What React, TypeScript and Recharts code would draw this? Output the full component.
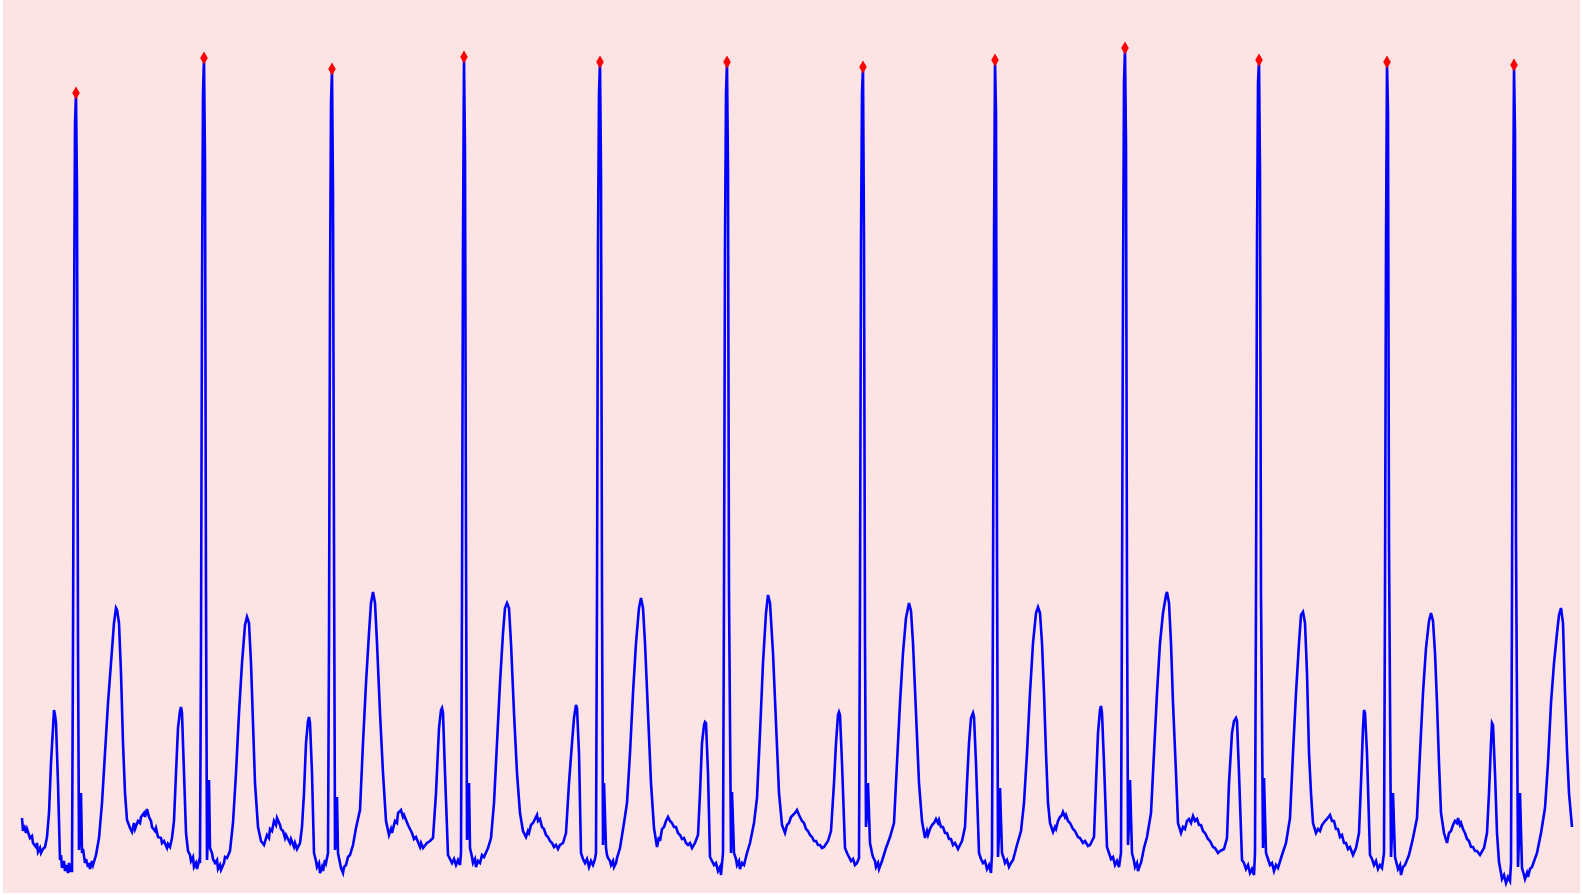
import { ComposedChart, Line, Scatter, XAxis, YAxis, ZAxis, CartesianGrid } from 'recharts';

// ECG trace: [time (samples), amplitude (units above floor)]
const leadIn: [number, number][] = [
  [22, 75], [23, 62], [24, 68], [26, 60], [27, 64], [30, 55], [32, 57], [33, 50], [36, 46], [37, 50], [38, 41], [40, 45], [41, 40], [43, 44], [45, 46], [47, 56],
];

const beat1: [number, number][] = [
  [49, 80], [51, 130], [53, 165], [54, 183], [55, 178], [56, 170], [58, 110], [60, 33], [61, 38], [62, 25], [64, 32], [65, 22], [66, 28], [68, 20], [69, 30], [70, 22], [72, 22],
  [73, 250], [74, 560], [75, 770], [76, 800], [77, 700], [78, 250], [79, 43], [80, 60], [81, 100], [82, 40], [83, 44], [85, 30], [86, 34], [88, 26], [89, 30], [90, 24], [92, 32], [93, 28], [96, 38],
  [99, 55], [102, 90], [105, 140], [108, 190], [111, 230], [114, 270], [116, 285], [117, 283], [119, 270], [121, 220], [123, 150], [125, 100], [127, 73],
  [130, 65], [132, 61], [134, 70], [135, 64], [138, 72], [140, 70], [141, 76], [144, 80], [145, 76], [147, 84], [149, 76], [151, 72], [152, 66], [155, 62], [156, 65], [158, 56], [161, 55], [162, 50], [164, 52], [167, 45], [168, 49], [170, 46], [172, 55],
];

const beat2: [number, number][] = [
  [174, 72], [176, 120], [178, 165], [180, 182], [181, 186], [182, 180], [184, 120], [186, 60], [188, 42], [190, 38], [191, 32], [193, 36], [194, 26], [196, 30], [197, 24], [199, 32],
  [200, 30], [201, 250], [202, 600], [203, 800], [204, 835], [205, 730], [206, 300], [207, 33], [208, 60], [209, 113], [210, 45], [212, 40], [213, 34], [215, 30], [217, 33], [218, 24], [220, 28], [221, 23], [224, 30], [225, 36], [227, 35], [230, 42],
  [233, 70], [236, 120], [239, 180], [242, 230], [245, 268], [247, 276], [249, 270], [251, 230], [253, 170], [255, 110], [258, 66], [261, 52], [264, 48],
  [267, 58], [269, 55], [270, 64], [272, 62], [274, 72], [276, 68], [277, 75], [280, 68], [281, 64], [283, 62], [285, 55], [286, 58], [290, 50], [291, 54], [294, 46], [295, 50], [297, 44], [300, 50], [302, 66],
];

const beat3: [number, number][] = [
  [304, 100], [306, 150], [308, 172], [309, 176], [310, 170], [312, 120], [314, 40], [316, 32], [317, 26], [319, 30], [320, 20], [322, 26], [323, 22], [325, 33], [326, 30], [328, 40],
  [329, 250], [330, 600], [331, 790], [332, 824], [333, 700], [334, 350], [335, 43], [336, 55], [337, 96], [338, 40], [340, 30], [341, 25], [343, 20], [344, 26], [346, 28], [348, 36], [350, 38], [353, 48], [356, 65], [360, 83],
  [363, 150], [366, 210], [369, 260], [371, 290], [373, 301], [375, 290], [377, 250], [380, 180], [383, 120], [386, 72], [389, 58],
  [391, 64], [392, 60], [395, 72], [397, 70], [398, 80], [401, 83], [403, 76], [404, 78], [408, 68], [410, 64], [412, 60], [414, 54], [416, 56], [420, 46], [421, 50], [423, 45], [427, 50], [430, 52], [433, 55],
];

const beat4: [number, number][] = [
  [436, 100], [439, 165], [441, 183], [442, 185], [443, 180], [445, 120], [448, 38], [450, 34], [452, 30], [454, 34], [456, 28], [458, 33], [460, 28],
  [461, 40], [462, 300], [463, 650], [464, 836], [465, 740], [466, 350], [467, 53], [468, 70], [469, 110], [470, 45], [472, 36], [473, 30], [475, 34], [476, 26], [478, 32], [480, 30], [482, 38], [484, 36], [488, 45], [491, 55],
  [494, 90], [497, 150], [500, 210], [503, 260], [505, 285], [507, 290], [509, 285], [511, 250], [514, 180], [517, 120], [520, 80], [523, 62], [526, 56],
  [528, 62], [529, 60], [531, 68], [533, 70], [535, 74], [537, 78], [538, 72], [540, 74], [542, 66], [544, 64], [546, 58], [548, 56], [550, 52], [552, 50], [554, 46], [556, 48], [558, 44], [560, 48], [563, 50], [566, 60],
];

const beat5: [number, number][] = [
  [569, 110], [572, 150], [574, 175], [576, 188], [577, 185], [579, 140], [581, 40], [583, 34], [585, 30], [587, 34], [589, 26], [591, 32], [593, 28], [595, 34],
  [596, 40], [597, 300], [598, 650], [599, 800], [600, 831], [601, 720], [602, 300], [603, 48], [604, 110], [606, 45], [607, 38], [608, 35], [610, 32], [611, 28], [613, 32], [614, 26], [616, 30], [617, 35], [620, 45], [624, 70], [627, 90],
  [630, 140], [633, 200], [636, 250], [639, 285], [641, 295], [643, 285], [645, 250], [648, 180], [651, 110], [654, 65], [657, 46],
  [659, 56], [660, 52], [662, 64], [664, 66], [666, 72], [668, 76], [670, 72], [672, 70], [674, 66], [676, 66], [678, 60], [680, 58], [682, 54], [684, 55], [686, 50], [688, 48], [690, 50], [692, 45], [695, 50], [698, 58],
];

const beat6: [number, number][] = [
  [700, 100], [702, 150], [704, 168], [705, 171], [706, 170], [708, 120], [710, 36], [712, 32], [714, 28], [716, 30], [718, 22], [720, 26], [721, 18],
  [723, 40], [724, 300], [725, 650], [726, 800], [727, 831], [728, 720], [729, 300], [731, 40], [732, 101], [734, 40], [736, 34], [737, 28], [739, 32], [740, 24], [742, 30], [744, 28], [747, 40], [750, 50], [754, 70], [757, 95],
  [760, 160], [763, 230], [766, 280], [768, 298], [770, 290], [773, 240], [776, 170], [779, 100], [782, 68], [785, 60],
  [787, 68], [789, 70], [791, 76], [793, 78], [795, 80], [797, 83], [799, 78], [800, 76], [802, 72], [804, 70], [806, 64], [808, 62], [810, 58], [812, 56], [814, 52], [816, 52], [818, 48], [820, 48], [822, 45], [824, 46], [828, 52], [831, 62],
];

const beat7: [number, number][] = [
  [834, 110], [836, 150], [838, 178], [839, 181], [840, 178], [842, 130], [845, 45], [847, 40], [849, 36], [851, 32], [853, 34], [855, 28], [857, 30],
  [859, 35], [860, 300], [861, 650], [862, 800], [863, 826], [864, 650], [865, 250], [866, 66], [867, 80], [868, 110], [870, 50], [872, 40], [873, 36], [875, 32], [876, 26], [878, 30], [879, 24], [882, 32], [886, 45], [890, 56], [894, 70],
  [897, 130], [900, 190], [903, 240], [906, 275], [909, 290], [911, 282], [913, 250], [916, 180], [919, 110], [922, 72], [925, 55],
  [927, 62], [928, 58], [930, 64], [932, 68], [934, 70], [936, 74], [938, 70], [939, 73], [941, 66], [943, 66], [945, 60], [947, 60], [949, 54], [951, 54], [953, 48], [955, 50], [958, 44], [960, 48], [962, 52], [965, 66],
];

const beat8: [number, number][] = [
  [967, 110], [969, 150], [971, 175], [973, 180], [974, 176], [976, 130], [979, 40], [981, 34], [983, 30], [985, 32], [987, 24], [989, 28], [991, 20],
  [992, 40], [993, 300], [994, 650], [995, 833], [996, 780], [997, 350], [998, 36], [999, 60], [1000, 105], [1002, 40], [1004, 34], [1005, 30], [1007, 33], [1009, 26], [1011, 30], [1013, 33], [1017, 48], [1021, 62], [1024, 90],
  [1027, 140], [1030, 200], [1033, 250], [1036, 280], [1038, 286], [1040, 280], [1042, 250], [1044, 200], [1046, 140], [1048, 90], [1050, 70], [1053, 61],
  [1055, 66], [1056, 64], [1058, 72], [1060, 76], [1062, 78], [1063, 81], [1065, 76], [1066, 78], [1068, 72], [1070, 70], [1073, 64], [1075, 62], [1078, 56], [1080, 55], [1083, 50], [1085, 52], [1088, 47], [1090, 48], [1094, 56],
];

const beat9: [number, number][] = [
  [1096, 110], [1098, 160], [1100, 183], [1101, 187], [1102, 180], [1104, 130], [1107, 46], [1109, 40], [1111, 34], [1113, 36], [1115, 28], [1117, 32], [1119, 26],
  [1121, 40], [1122, 300], [1123, 600], [1124, 810], [1125, 845], [1126, 750], [1127, 300], [1128, 48], [1129, 70], [1130, 113], [1132, 40], [1134, 32], [1135, 26], [1137, 30], [1138, 22], [1140, 28], [1141, 30], [1144, 45], [1147, 56], [1151, 80],
  [1154, 140], [1157, 200], [1160, 250], [1163, 280], [1166, 298], [1167, 301], [1169, 290], [1171, 250], [1173, 190], [1176, 120], [1178, 70], [1181, 60],
  [1183, 66], [1185, 64], [1187, 72], [1189, 74], [1191, 70], [1193, 77], [1195, 72], [1197, 74], [1199, 68], [1201, 68], [1203, 62], [1205, 60], [1208, 54], [1210, 52], [1213, 46], [1215, 45], [1218, 40], [1220, 42], [1224, 44], [1227, 55],
];

const beat10: [number, number][] = [
  [1229, 110], [1232, 160], [1234, 172], [1236, 175], [1237, 172], [1239, 120], [1242, 33], [1244, 30], [1246, 24], [1248, 28], [1250, 20], [1252, 24], [1254, 18],
  [1255, 40], [1256, 300], [1257, 650], [1258, 810], [1259, 833], [1260, 720], [1261, 300], [1263, 45], [1264, 115], [1266, 40], [1268, 34], [1270, 28], [1272, 30], [1274, 22], [1276, 28], [1278, 25], [1282, 38], [1286, 50], [1290, 75],
  [1293, 140], [1296, 200], [1299, 250], [1301, 278], [1303, 281], [1305, 270], [1307, 220], [1309, 140], [1311, 100], [1313, 70], [1316, 60],
  [1318, 64], [1320, 62], [1322, 68], [1325, 72], [1327, 74], [1330, 78], [1332, 72], [1334, 72], [1336, 64], [1338, 64], [1340, 56], [1342, 58], [1344, 50], [1346, 50], [1348, 44], [1350, 46], [1353, 38], [1356, 45], [1359, 60],
];

const beat11: [number, number][] = [
  [1361, 110], [1363, 165], [1364, 183], [1365, 180], [1367, 140], [1370, 38], [1372, 34], [1374, 28], [1376, 32], [1378, 24], [1380, 28], [1382, 25],
  [1384, 40], [1385, 300], [1386, 650], [1387, 831], [1388, 780], [1389, 350], [1391, 36], [1392, 60], [1393, 100], [1395, 36], [1397, 28], [1398, 24], [1400, 28], [1401, 18], [1403, 26], [1405, 28], [1409, 38], [1413, 55], [1417, 75],
  [1420, 140], [1423, 200], [1426, 245], [1429, 272], [1431, 280], [1433, 272], [1435, 240], [1437, 190], [1439, 130], [1441, 80], [1444, 60], [1447, 50],
  [1449, 60], [1451, 62], [1453, 68], [1455, 72], [1457, 70], [1458, 75], [1460, 68], [1461, 70], [1463, 64], [1465, 60], [1467, 54], [1469, 52], [1471, 46], [1473, 46], [1475, 42], [1477, 42], [1480, 38], [1484, 45], [1487, 60],
];

const beat12: [number, number][] = [
  [1489, 100], [1491, 150], [1492, 170], [1493, 168], [1495, 120], [1497, 60], [1499, 31], [1501, 20], [1502, 14], [1504, 18], [1506, 10], [1508, 16], [1510, 12],
  [1511, 30], [1512, 300], [1513, 650], [1514, 828], [1515, 760], [1516, 350], [1518, 26], [1519, 55], [1520, 100], [1522, 25], [1524, 18], [1525, 14], [1527, 20], [1528, 16], [1530, 24], [1532, 26], [1537, 40], [1541, 60], [1545, 85],
  [1548, 130], [1551, 190], [1554, 230], [1557, 260], [1559, 278], [1561, 285], [1563, 270], [1565, 200], [1567, 143], [1569, 100], [1572, 66],
];

// Detected R peaks (red markers)
const peakTimes = [76, 204, 332, 464, 600, 727, 863, 995, 1125, 1259, 1387, 1514];
const peakAmps = [800, 835, 824, 836, 831, 831, 826, 833, 845, 833, 831, 828];

const ecgData = [leadIn, beat1, beat2, beat3, beat4, beat5, beat6, beat7, beat8, beat9, beat10, beat11, beat12]
  .flat()
  .map(([t, a]) => ({ t, a }));

const peakData = peakTimes.map((t, i) => ({ t, a: peakAmps[i] }));

export default function App() {
  return (
    <div style={{ position: 'absolute', left: 0, top: 0, width: 1583, height: 895, background: '#ffffff' }}>
      <ComposedChart width={1583} height={895} margin={{ top: 0, right: 3, bottom: 2, left: 3 }}>
        <CartesianGrid fill="#fde4e4" stroke="none" horizontal={false} vertical={false} />
        <XAxis dataKey="t" type="number" domain={[3, 1580]} hide allowDataOverflow />
        <YAxis dataKey="a" type="number" domain={[0, 893]} hide allowDataOverflow />
        <ZAxis range={[50, 50]} />
        <Line
          data={ecgData}
          dataKey="a"
          type="linear"
          stroke="#0000ff"
          strokeWidth={2.6}
          dot={false}
          isAnimationActive={false}
        />
        <Scatter data={peakData} dataKey="a" shape="diamond" fill="#ff0000" isAnimationActive={false} />
      </ComposedChart>
    </div>
  );
}
